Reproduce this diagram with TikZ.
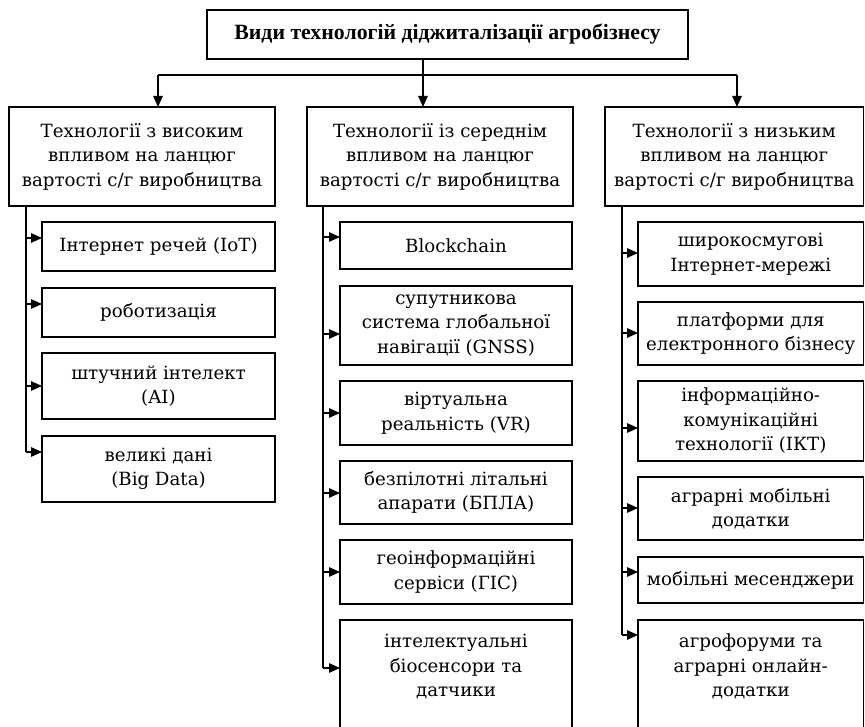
\documentclass[tikz,border=0pt]{standalone}
\usepackage{fontspec}
\setmainfont{DejaVu Serif}
\newfontfamily\topfont{Liberation Serif}
\usetikzlibrary{arrows.meta}
\newcommand\mybox[6]{%
  \node[box, minimum width={#4-#2}, minimum height={#5-#3}] (#1) at (#2,#3) {#6};}
\begin{document}
\begin{tikzpicture}[x=1pt,y=-1pt,
  box/.style={draw, line width=1.4pt, align=center, inner sep=0pt, outer sep=0pt,
    anchor=north west, font=\fontsize{18.2}{24.5}\selectfont},
  arr/.style={line width=1.4pt, -{Triangle[length=11pt,width=9.5pt]}},
  ln/.style={line width=1.4pt}]
\fill[white] (0,0) rectangle (865,727);
\useasboundingbox (0,0) rectangle (865,727);
\clip (0,0) rectangle (865,727);
% top
\node[box, minimum width=481, minimum height=49, font=\topfont\bfseries\fontsize{21.8}{24}\selectfont] (top) at (207,10) {Види технологій діджиталізації агробізнесу};
% level 2
\mybox{lft}{9}{107}{275}{206}{Технології з високим\\впливом на ланцюг\\вартості с/г виробництва}
\mybox{mid}{307}{107}{573}{206}{Технології із середнім\\впливом на ланцюг\\вартості с/г виробництва}
\mybox{rgt}{605}{107}{863.5}{206}{Технології з низьким\\впливом на ланцюг\\вартості с/г виробництва}
\coordinate (hub) at (423,75);
\coordinate (cl) at (158,75);
\coordinate (cr) at (737,75);
\draw[ln] (top.south -| hub) -- (hub);
\draw[ln] (cl) -- (cr);
\draw[arr] (hub) -- (hub |- mid.north);
\draw[arr] (cl) -- (cl |- lft.north);
\draw[arr] (cr) -- (cr |- rgt.north);
% left column
\mybox{a1}{42}{222}{275}{271}{Інтернет речей (IoT)}
\mybox{a2}{42}{288}{275}{337}{роботизація}
\mybox{a3}{42}{353}{275}{419}{штучний інтелект\\(AI)}
\mybox{a4}{42}{436}{275}{502}{великі дані\\(Big Data)}
\coordinate (pa1) at (26,238);
\coordinate (pa2) at (26,304);
\coordinate (pa3) at (26,386);
\coordinate (pa4) at (26,452);
\draw[ln] (lft.south -| pa4) -- (pa4);
\foreach \i in {1,...,4} \draw[arr] (pa\i) -- (pa\i -| a\i.west);
% middle column
\mybox{b1}{340}{222}{572}{269}{Blockchain}
\mybox{b2}{340}{286}{572}{365}{супутникова\\система глобальної\\навігації (GNSS)}
\mybox{b3}{340}{381}{572}{445}{віртуальна\\реальність (VR)}
\mybox{b4}{340}{461}{572}{524}{безпілотні літальні\\апарати (БПЛА)}
\mybox{b5}{340}{540}{572}{604}{геоінформаційні\\сервіси (ГІС)}
\mybox{b6}{340}{620}{572}{760}{інтелектуальні\\біосенсори та\\датчики\\~\\~}
\coordinate (pb1) at (323,237);
\coordinate (pb2) at (323,334);
\coordinate (pb3) at (323,413);
\coordinate (pb4) at (323,493);
\coordinate (pb5) at (323,572);
\coordinate (pb6) at (323,668);
\draw[ln] (mid.south -| pb6) -- (pb6);
\foreach \i in {1,...,6} \draw[arr] (pb\i) -- (pb\i -| b\i.west);
% right column
\mybox{c1}{638}{222}{863.5}{286}{широкосмугові\\Інтернет-мережі}
\mybox{c2}{638}{302}{863.5}{365}{платформи для\\електронного бізнесу}
\mybox{c3}{638}{381}{863.5}{461}{інформаційно-\\комунікаційні\\технології (ІКТ)}
\mybox{c4}{638}{477}{863.5}{540}{аграрні мобільні\\додатки}
\mybox{c5}{638}{557}{863.5}{603}{мобільні месенджери}
\mybox{c6}{638}{620}{863.5}{760}{агрофоруми та\\аграрні онлайн-\\додатки\\~\\~}
\coordinate (pc1) at (622,253);
\coordinate (pc2) at (622,333);
\coordinate (pc3) at (622,428);
\coordinate (pc4) at (622,508);
\coordinate (pc5) at (622,572);
\coordinate (pc6) at (622,635);
\draw[ln] (rgt.south -| pc6) -- (pc6);
\foreach \i in {1,...,6} \draw[arr] (pc\i) -- (pc\i -| c\i.west);
\end{tikzpicture}
\end{document}
